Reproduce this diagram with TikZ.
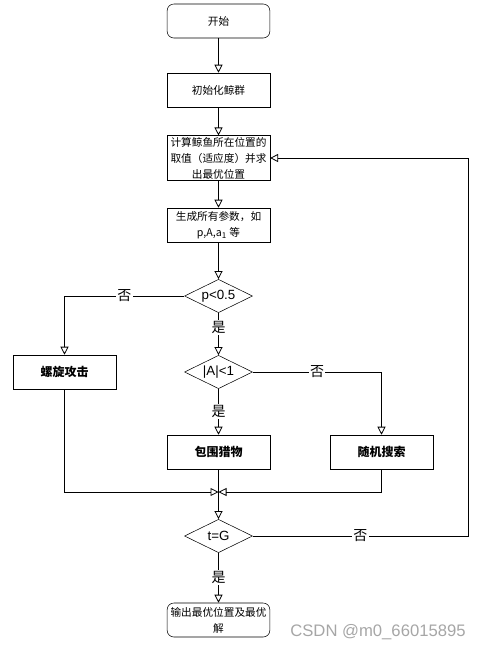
\documentclass[tikz,border=0pt]{standalone}
\usepackage{fontspec}
\usepackage{tikz}
\usetikzlibrary{shapes.geometric,arrows.meta,positioning}
\newfontfamily\cjk{Noto Sans CJK SC}
\newfontfamily\wmfont{Liberation Sans}

\begin{document}
\begin{tikzpicture}[x=0.75pt,y=-0.75pt,
  box/.style={draw,fill=white,minimum width=77pt,minimum height=25.5pt,align=center,inner sep=1pt,font=\cjk\fontsize{8}{12}\selectfont},
  rbox/.style={box,rounded corners=5pt},
  bbox/.style={box,font=\cjk\bfseries\fontsize{9}{12}\selectfont},
  dec/.style={draw,diamond,aspect=2,minimum width=51pt,minimum height=25pt,inner sep=0pt,font=\wmfont\fontsize{10}{12}\selectfont},
  arr/.style={-{Triangle[open,length=6pt,width=6pt]},line width=0.6pt},
  lbl/.style={font=\cjk\fontsize{10.5}{12}\selectfont,fill=white,inner sep=1pt}
]
\useasboundingbox (0,0) rectangle (480,651);

\node[rbox] (start)    at (218.5,21)  {开始};
\node[box]  (init)     at (218.5,90)  {初始化鲸群};
\node[box]  (calc)     at (218.5,158) {计算鲸鱼所在位置的\\取值（适应度）并求\\出最优位置};
\node[box]  (params)   at (218.5,225) {生成所有参数，如\\p,A,a\textsubscript{1} 等};
\node[dec]  (pcheck)   at (218.5,296) {p<0.5};
\node[dec]  (acheck)   at (218.5,372) {|A|<1};
\node[bbox] (spiral)   at (64.5,372)  {螺旋攻击};
\node[bbox] (encircle) at (218.5,452) {包围猎物};
\node[bbox] (search)   at (381.5,452) {随机搜索};
\coordinate (merge)    at (218.5,492);
\node[dec]  (tcheck)   at (218.5,536) {t=G};
\coordinate (loop)     at (468,536);
\node[rbox] (output)   at (218.5,620) {输出最优位置及最优\\解};

\node[font=\wmfont\fontsize{12.5}{14}\selectfont,text=gray!70] (mark) at (378,632) {CSDN @m0\_66015895};

% main column
\draw[arr] (start) -- (init);
\draw[arr] (init) -- (calc);
\draw[arr] (calc) -- (params);
\draw[arr] (params) -- (pcheck);
\draw[arr] (pcheck) -- node[lbl,pos=0.35]{是} (acheck);
\draw[arr] (acheck) -- node[lbl]{是} (encircle);
% branches
\draw[arr] (pcheck.west) -| node[lbl,pos=0.25]{否} (spiral.north);
\draw[arr] (acheck.east) -| node[lbl,pos=0.25]{否} (search.north);
\draw[arr] (spiral.south) |- (merge);
\draw[arr] (search.south) |- (merge);
\draw[arr] (encircle.south) -- (tcheck.north);
% loop back
\draw[arr] (tcheck.east) -- node[lbl]{否} (loop) |- (calc.east);
\draw[arr] (tcheck) -- node[lbl]{是} (output);
\end{tikzpicture}
\end{document}
